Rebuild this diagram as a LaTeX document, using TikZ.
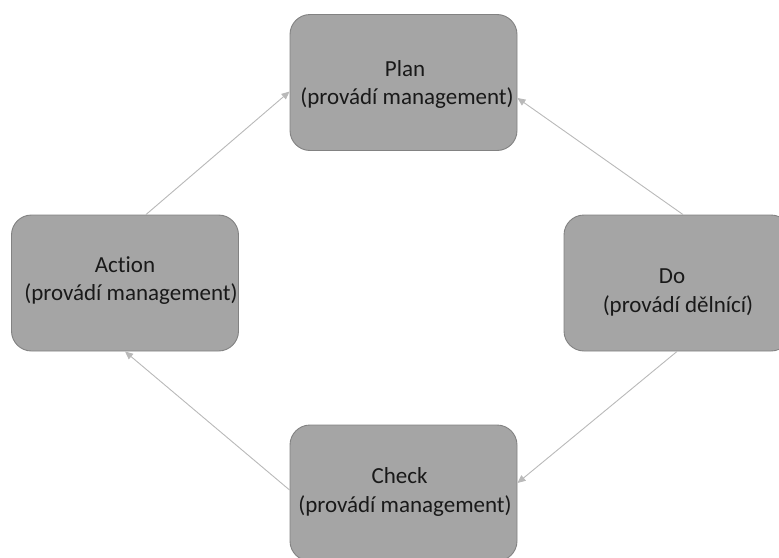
\documentclass[tikz,border=0pt]{standalone}
\usepackage{fontspec}
\setmainfont{Carlito}[Ligatures=NoCommon]
\usetikzlibrary{arrows.meta,calc}
\definecolor{boxfill}{RGB}{165,165,165}
\definecolor{boxline}{RGB}{130,130,130}
\definecolor{arrowc}{RGB}{185,185,185}
\tikzset{
  stagebox/.style={draw=boxline, line width=0.9pt, fill=boxfill, rounded corners=20pt,
    minimum width=227pt, minimum height=136pt, inner sep=0pt},
  stagetxt/.style={anchor=base, inner sep=0pt, font=\fontsize{23pt}{28pt}\selectfont, text=black!90},
  flow/.style={draw=arrowc, line width=0.9pt, -{Triangle[length=8pt,width=7pt]}}
}
\begin{document}
\begin{tikzpicture}[x=1pt,y=-1pt]
\useasboundingbox (0,0) rectangle (779,557);
\clip (0,0) rectangle (779,557);
\node[stagebox] (plan) at (403.5,82.5) {};
\node[stagebox] (action) at (125,283) {};
\node[stagebox] (do) at (677.5,283) {};
\node[stagebox] (check) at (403.5,493) {};
\node[stagetxt] (plan1) at (405,76) {Plan};
\node[stagetxt] (plan2) at (407,104) {(provádí management)};
\node[stagetxt] (action1) at (125,272) {Action};
\node[stagetxt] (action2) at (131,300) {(provádí management)};
\node[stagetxt] (do1) at (672,283) {Do};
\node[stagetxt] (do2) at (678,312) {(provádí dělnící)};
\node[stagetxt] (check1) at (399.5,483) {Check};
\node[stagetxt] (check2) at (405,512) {(provádí management)};
\draw[flow] ([xshift=21pt]action.north) -- ([yshift=-9pt]plan.west);
\draw[flow] ([xshift=5.5pt]do.north) -- ([yshift=-15.5pt]plan.east);
\draw[flow] ([xshift=-0.5pt]do.south) -- ([yshift=10pt]check.east);
\draw[flow] ([yshift=3pt]check.west) -- ([xshift=0pt]action.south);
\end{tikzpicture}
\end{document}
